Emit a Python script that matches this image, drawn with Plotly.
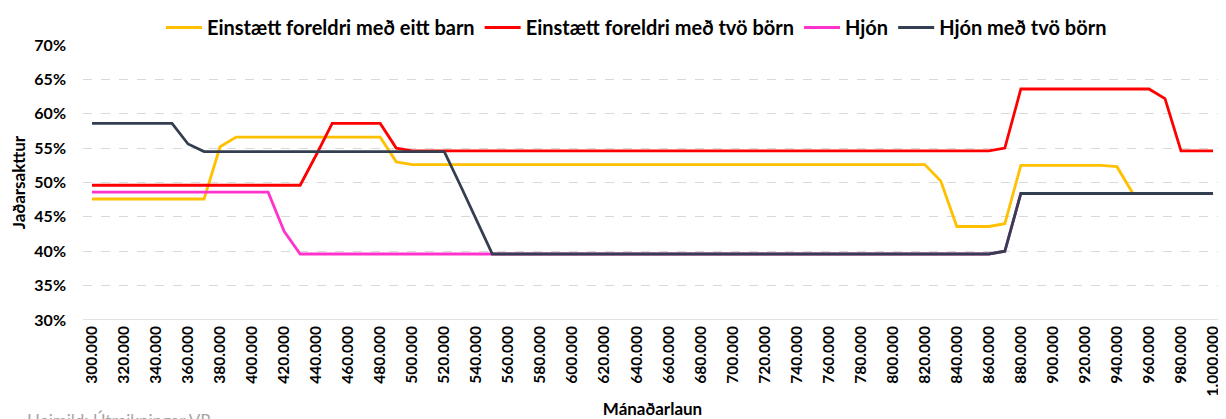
import plotly.graph_objects as go

# Mánaðarlaun, 300.000 til 1.000.000 í 10.000 kr. skrefum
laun = list(range(300000, 1000001, 10000))

einst_eitt_barn = [47.6] * 8 + [55.2] + [56.6] * 10 + [53.0] + [52.6] * 33 + \
    [50.2, 43.6, 43.6, 43.6, 44.0] + [52.5] * 6 + [52.3] + [48.4] * 6
einst_tvo_born = [49.6] * 14 + [54.0] + [58.6] * 4 + [55.0] + [54.6] * 37 + \
    [55.0] + [63.6] * 9 + [62.2] + [54.6] * 3
hjon = [48.6] * 12 + [42.9] + [39.6] * 44 + [40.0] + [48.4] * 13
hjon_tvo_born = [58.6] * 6 + [55.6] + [54.5] * 16 + [49.6, 44.6] + [39.6] * 32 + \
    [40.0] + [48.4] * 13

nofn = ["Einstætt foreldri með eitt barn", "Einstætt foreldri með tvö börn",
        "Hjón", "Hjón með tvö börn"]
litir = ["#FFC000", "#FF0000", "#FF33CC", "#333F50"]

tick_vals = list(range(300000, 1000001, 20000))
tick_text = [f"{v:,}".replace(",", ".") for v in tick_vals]

font = "Lato, 'Open Sans', sans-serif"

fig = go.Figure()
for nafn, gildi, litur in zip(nofn, [einst_eitt_barn, einst_tvo_born, hjon, hjon_tvo_born], litir):
    fig.add_trace(go.Scatter(x=laun, y=gildi, name=nafn, mode="lines",
                             line=dict(color=litur, width=2.8)))

# síðan hefur 8px spássíu, svo myndin er minnkuð um það
fig.update_layout(
    width=1218, height=411,
    margin=dict(l=75, r=4, t=37, b=99, autoexpand=False),
    plot_bgcolor="white", paper_bgcolor="white",
    font=dict(family=font, size=14, color="black"),
    legend=dict(orientation="h", xref="container", yref="container",
                x=0.516, xanchor="center", y=1.0, yanchor="top",
                font=dict(size=20, family=font, weight="bold"), itemwidth=36,
                tracegroupgap=0, borderwidth=0),
    showlegend=True,
)
fig.update_xaxes(
    range=[294400, 1005600], tickvals=tick_vals, ticktext=tick_text, tickangle=-90,
    tickfont=dict(size=15.5, weight="bold"), showgrid=False, showline=False,
    automargin=False, ticks="", ticklabelstandoff=2,
    title=dict(text="Mánaðarlaun", font=dict(size=17, weight="bold"), standoff=7),
)
fig.update_yaxes(
    range=[30, 70], dtick=5, ticksuffix="%", tickfont=dict(size=16, weight="bold"),
    showgrid=True, gridcolor="#D9D9D9", griddash="dash", gridwidth=1,
    zeroline=False, showline=False, automargin=False, ticks="", ticklabelstandoff=16,
    title=dict(text="Jaðarsakttur", font=dict(size=17, weight="bold"), standoff=10),
)
fig.add_hline(y=30, line=dict(color="#D9D9D9", width=1.5))
fig.add_annotation(text="Heimild: Útreikningar VR", xref="paper", yref="paper",
                   x=-0.051, y=-0.32, xanchor="left", yanchor="top", showarrow=False,
                   font=dict(size=17, color="#A6A6A6"))

fig.write_html("out.html")
